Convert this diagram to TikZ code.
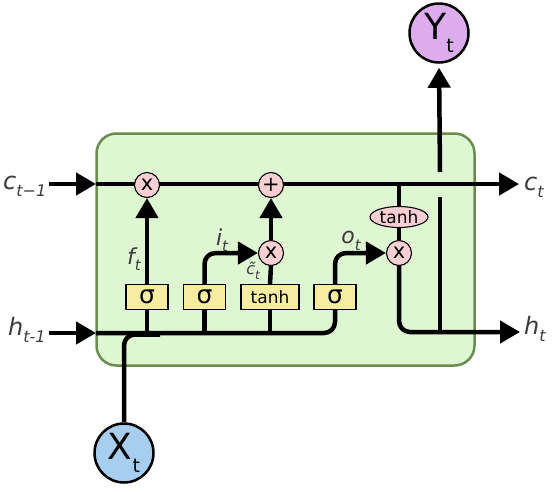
\documentclass[tikz,border=0pt]{standalone}
\usepackage{fontspec}
\setmainfont{DejaVu Sans}
\usetikzlibrary{arrows.meta,shapes.geometric}
\definecolor{cellfill}{HTML}{DFF6D2}
\definecolor{cellborder}{HTML}{6B8C50}
\definecolor{gatefill}{HTML}{F6EDA2}
\definecolor{opfill}{HTML}{F8CFD3}
\definecolor{yfill}{HTML}{DDACEC}
\definecolor{xfill}{HTML}{A7CDEF}
\definecolor{lbl}{HTML}{3A3A3A}
\pgfdeclarelayer{back}
\pgfdeclarelayer{mid}
\pgfsetlayers{back,mid,main}
\newcommand{\biglab}[2]{\fontsize{24}{24}\selectfont\itshape #1\raisebox{-0.3em}{\fontsize{16}{16}\selectfont #2}}
\newcommand{\smlab}[2]{\fontsize{22}{22}\selectfont\itshape #1\raisebox{-0.3em}{\fontsize{15}{15}\selectfont #2}}
\begin{document}
\begin{tikzpicture}[x=1pt,y=-1pt,
  wire/.style={line width=4.5pt, line join=round},
  arr/.style={wire,-{Triangle[length=20pt,width=22pt]}},
  cellbox/.style={draw=cellborder, line width=2.5pt, fill=cellfill, rounded corners=20pt, minimum width=378pt, minimum height=232pt, inner sep=0pt},
  gatebox/.style={draw=black, line width=1.3pt, fill=gatefill, minimum width=42pt, minimum height=25pt, inner sep=0pt, font=\fontsize{25}{25}\selectfont},
  tanhbox/.style={gatebox, minimum width=58pt, font=\fontsize{17}{17}\selectfont},
  opnode/.style={circle, draw=black, line width=1.1pt, fill=opfill, minimum size=25pt, inner sep=0pt, font=\fontsize{21}{21}\selectfont},
  tanhell/.style={ellipse, draw=black, line width=1.1pt, fill=opfill, minimum width=58pt, minimum height=21pt, inner sep=0pt, font=\fontsize{17}{17}\selectfont},
  iocirc/.style={circle, draw=black, line width=2.5pt, minimum size=59pt, inner sep=0pt},
  lab/.style={text=lbl, inner sep=0pt},
  elbow/.style={rounded corners=11pt}
]
\useasboundingbox (0,0) rectangle (559,491);

% cell
\begin{pgfonlayer}{back}
\node[cellbox] (cell) at (285.5,249.5) {};
\end{pgfonlayer}

% coordinates
\coordinate (cL) at (49,184);
\coordinate (cB) at (96,184);
\coordinate (cR) at (519,184);
\coordinate (hL) at (49,333);
\coordinate (hB) at (96,333);
\coordinate (hR) at (520,332);
\coordinate (xm) at (160,334.5);
\coordinate (ybot) at (440,197);
\coordinate (ytop) at (440,172);
\coordinate (yj) at (440,332);

% nodes
\node[gatebox] (g1) at (147,297) {σ};
\node[gatebox] (g2) at (204.5,297) {σ};
\node[tanhbox] (g4) at (270,297) {tanh};
\node[gatebox] (g3) at (335,297) {σ};
\node[opnode] (m1) at (147,185) {x};
\node[opnode] (p1) at (271,185) {+};
\node[opnode] (m2) at (271,253) {x};
\node[tanhell] (th) at (399,217) {tanh};
\node[opnode] (m3) at (399,253) {x};
\node[iocirc, fill=yfill] (yt) at (439,33) {\fontsize{36}{36}\selectfont Y\raisebox{-0.35em}{\fontsize{19}{19}\selectfont t}};
\node[iocirc, fill=xfill] (xt) at (124,453) {\fontsize{36}{36}\selectfont X\raisebox{-0.35em}{\fontsize{19}{19}\selectfont t}};

% labels
\node[lab, anchor=base west] (lc0) at (3,189) {\biglab{c}{t−1}};
\node[lab, anchor=base west] (lh0) at (8,335) {\biglab{h}{t-1}};
\node[lab, anchor=base west] (lc1) at (524,190) {\biglab{c}{t}};
\node[lab, anchor=base west] (lh1) at (524,334) {\biglab{h}{t}};
\node[lab] (lf) at (134,259) {\smlab{f}{t}};
\node[lab] (li) at (222,240) {\smlab{i}{t}};
\node[lab] (lo) at (351,241) {\smlab{o}{t}};
\node[lab] (lct) at (253,271) {\fontsize{16}{16}\selectfont\itshape c\char"0303\raisebox{-0.3em}{\fontsize{12}{12}\selectfont t}};

% wires
\begin{pgfonlayer}{mid}
% inputs
\draw[arr] (cL) -- (cB);
\draw[arr] (hL) -- (hB);
% cell state line
\draw[arr] (cB) -- (cR);
% hidden input line into output gate
\draw[wire, elbow] (hB) -- (g3.south |- hB) -- (g3.south);
% x_t merging into hidden line
\draw[wire, elbow] (xt.north) -- (xt.north |- xm) -- (xm);
% gate inputs
\draw[wire] (g1.south |- hB) -- (g1.south);
\draw[wire] (g2.south |- hB) -- (g2.south);
\draw[wire] (g4.south |- hB) -- (g4.south);
% forget gate
\draw[arr] (g1.north) -- (m1.south);
% input gate
\draw[arr, elbow] (g2.north) -- (g2.north |- m2) -- (m2.west);
\draw[wire] (g4.north) -- (m2.south);
\draw[arr] (m2.north) -- (p1.south);
% output gate
\draw[arr, elbow] (g3.north) -- (g3.north |- m3) -- (m3.west);
\draw[wire] (th.north |- cB) -- (th.north);
\draw[wire] (th.south) -- (m3.north);
\draw[arr, elbow] (m3.south) -- (m3.south |- hR) -- (hR);
% output to y_t
\draw[wire] (yj) -- (ybot);
\draw[arr, shorten >=4pt] (ytop) -- (yt.south);
\end{pgfonlayer}
\end{tikzpicture}
\end{document}
